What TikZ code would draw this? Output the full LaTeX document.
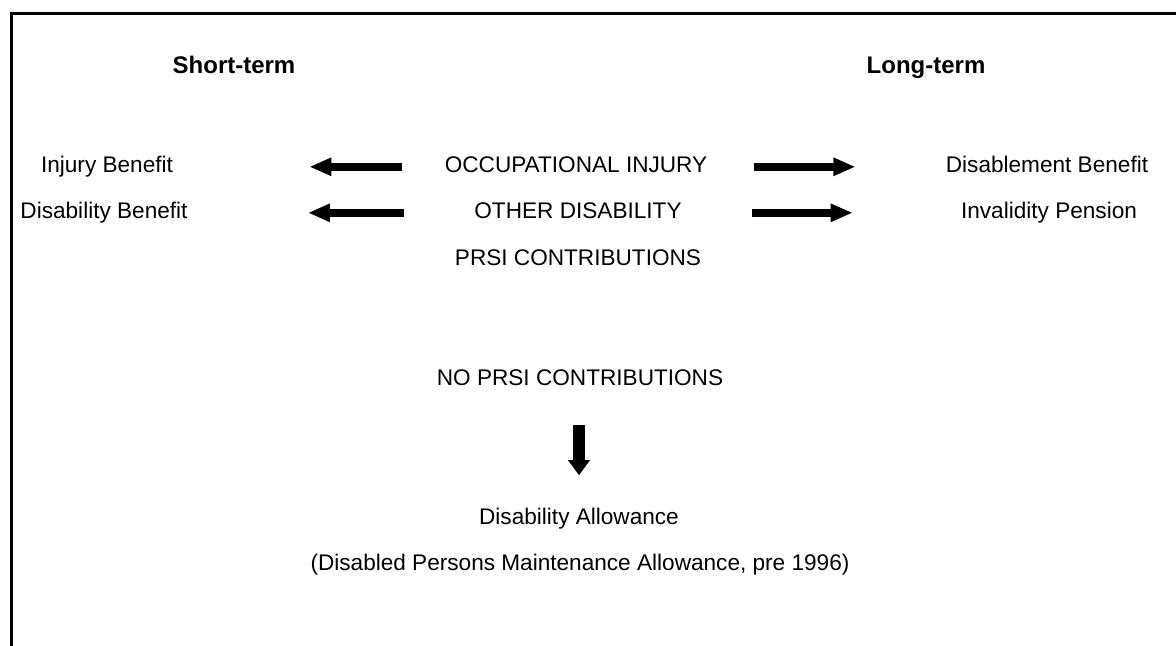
\documentclass[tikz,border=0pt]{standalone}
\usepackage{fontspec}
\setmainfont{Liberation Sans}
\usetikzlibrary{arrows.meta,positioning}

\begin{document}
\begin{tikzpicture}[x=0.5pt,y=-0.5pt,
  every node/.style={font=\fontsize{11.3}{13}\selectfont, inner sep=0pt, anchor=base, text height=0.72em, text depth=0.2em},
  head/.style={font=\fontsize{12}{14}\selectfont\bfseries},
  fat/.style={line width=4pt, -{Triangle[length=11pt,width=8.5pt]}},
  down/.style={line width=6pt, -{Triangle[length=7.5pt,width=10.5pt]}}]
\useasboundingbox (0,0) rectangle (1176,645);
\draw[line width=1.5pt] (11,650) -- (11,13) -- (1180,13);

\node[head] (short) at (234,73) {Short-term};
\node[head] (long) at (926,73) {Long-term};

\node (inj) at (107,172) {Injury Benefit};
\node (occ) at (576,172) {OCCUPATIONAL INJURY};
\node (disb) at (1047,172) {Disablement Benefit};
\node (dis) at (104,218) {Disability Benefit};
\node (other) at (578,218) {OTHER DISABILITY};
\node (inv) at (1049,218) {Invalidity Pension};
\node (prsi) at (578,265) {PRSI CONTRIBUTIONS};

\node (noprsi) at (580,385) {NO PRSI CONTRIBUTIONS};
\node (allow) at (579,524) {Disability Allowance};
\node (dpma) at (580,570) {(Disabled Persons Maintenance Allowance, pre 1996)};

\draw[fat, shorten <=21pt, shorten >=68pt] (occ.west) -- (inj.east);
\draw[fat, shorten <=23pt, shorten >=45pt] (occ.east) -- (disb.west);
\draw[fat, shorten <=35pt, shorten >=60pt] (other.west) -- (dis.east);
\draw[fat, shorten <=35pt, shorten >=54pt] (other.east) -- (inv.west);
\draw[down, shorten <=18pt, shorten >=17pt] (noprsi.south -| allow) -- (allow.north);
\end{tikzpicture}
\end{document}
